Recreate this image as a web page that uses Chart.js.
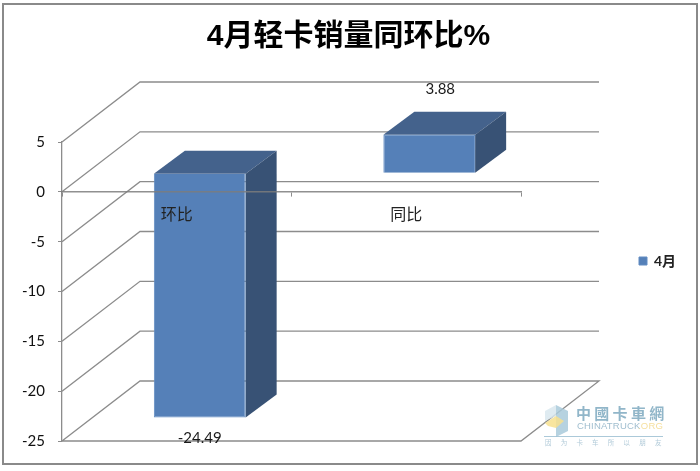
<!DOCTYPE html>
<html>
<head>
<meta charset="utf-8">
<style>html,body{margin:0;padding:0;background:#fff}canvas{display:block}</style>
<script src="https://cdn.jsdelivr.net/npm/chart.js@4/dist/chart.umd.min.js"></script>
</head>
<body>
<canvas id="c" width="700" height="471"></canvas>
<script>
const chartTitle = '4月轻卡销量同环比%';
const categories = ['环比', '同比'];
const seriesName = '4月';
const seriesValues = [-24.49, 3.88];
const valueLabels = ['-24.49', '3.88'];
const axisMin = -25, axisMax = 5, axisStep = 5;

const FONT = 'Lato, "Noto Sans CJK SC", sans-serif';
const GRID = '#8c8c8c';
const target = {left: 62, right: 521, top: 142, bottom: 441};
const wall = {dx: 78, dy: -60};
const barShift = {dx: 23, dy: -18.5};
const barDepth = {dx: 31, dy: -23};

const scene3d = {
  id: 'scene3d',
  beforeDraw(chart) {
    const c = chart.ctx;
    c.save();
    c.fillStyle = '#fff';
    c.fillRect(0, 0, chart.width, chart.height);
    c.strokeStyle = '#8a8a8a';
    c.lineWidth = 2;
    c.strokeRect(3, 4, 694, 460);
    c.restore();
  },
  afterLayout(chart) {
    const l = chart.legend;
    if (l) { l.left = 634; l.right = 691; l.top = 249; l.bottom = 275; }
    const t = chart.titleBlock;
    if (t) { t.left = 0; t.right = 697; }
  },
  beforeDatasetsDraw(chart) {
    const c = chart.ctx, y = chart.scales.y, a = chart.chartArea;
    c.save();
    c.strokeStyle = GRID;
    c.lineWidth = 1.3;
    y.ticks.forEach(t => {
      const p = y.getPixelForValue(t.value);
      c.beginPath();
      c.moveTo(a.left, p);
      c.lineTo(a.left + wall.dx, p + wall.dy);
      c.lineTo(a.right + wall.dx, p + wall.dy);
      if (t.value === axisMin) {
        c.lineTo(a.right, p);
        c.lineTo(a.left, p);
      }
      c.stroke();
    });
    c.restore();
    // bars are drawn by the library, moved to mid depth of the box
    c.save();
    c.translate(barShift.dx, barShift.dy);
    chart.getDatasetMeta(0).data.forEach(b => {
      const x0 = b.x - b.width / 2, x1 = b.x + b.width / 2;
      const top = Math.min(b.y, b.base), bot = Math.max(b.y, b.base);
      c.fillStyle = '#44628c';
      c.beginPath();
      c.moveTo(x0, top);
      c.lineTo(x0 + barDepth.dx, top + barDepth.dy);
      c.lineTo(x1 + barDepth.dx, top + barDepth.dy);
      c.lineTo(x1, top);
      c.closePath();
      c.fill();
      c.fillStyle = '#385275';
      c.beginPath();
      c.moveTo(x1, top);
      c.lineTo(x1 + barDepth.dx, top + barDepth.dy);
      c.lineTo(x1 + barDepth.dx, bot + barDepth.dy);
      c.lineTo(x1, bot);
      c.closePath();
      c.fill();
    });
  },
  afterDatasetsDraw(chart) {
    chart.ctx.restore();
  },
  afterDraw(chart) {
    const c = chart.ctx;
    c.save();
    // value labels
    c.fillStyle = '#1a1a1a';
    c.font = '15px ' + FONT;
    c.textAlign = 'center';
    c.textBaseline = 'middle';
    chart.getDatasetMeta(0).data.forEach((b, i) => {
      const v = seriesValues[i];
      if (v < 0) c.fillText(valueLabels[i], b.x + 23, b.y + 2);
      else c.fillText(valueLabels[i], b.x + 34, b.y - 64);
    });
    // watermark
    c.globalAlpha = 0.85;
    c.fillStyle = '#a9cadb';
    c.beginPath();
    c.moveTo(556, 405); c.lineTo(568, 411); c.lineTo(568, 431); c.lineTo(556, 437); c.closePath();
    c.fill();
    c.fillStyle = '#d9e8ef';
    c.beginPath();
    c.moveTo(556, 405); c.lineTo(545, 411); c.lineTo(545, 421); c.lineTo(556, 416); c.closePath();
    c.fill();
    c.fillStyle = '#f7e08e';
    c.beginPath();
    c.moveTo(545, 423); c.lineTo(556, 416); c.lineTo(564, 421); c.lineTo(556, 428); c.lineTo(548, 426); c.closePath();
    c.fill();
    c.textAlign = 'left';
    c.fillStyle = '#7ea9c0';
    c.font = 'bold 15px "Noto Sans CJK TC", sans-serif';
    c.letterSpacing = '3.3px';
    c.fillText('中國卡車網', 576, 413);
    c.letterSpacing = '0.2px';
    c.font = '9.5px "Liberation Sans", sans-serif';
    c.fillStyle = '#8fb3c7';
    c.fillText('CHINATRUCK', 577, 426);
    c.fillStyle = '#f3d98c';
    c.fillText('.ORG', 638, 426);
    c.fillStyle = '#9cc0d2';
    c.fillRect(544, 436, 119, 1);
    c.letterSpacing = '9.2px';
    c.font = '6.5px "Noto Sans CJK SC", sans-serif';
    c.fillStyle = '#a5c2d2';
    c.fillText('因为卡车所以朋友', 545, 443);
    c.restore();
  }
};

const chart = new Chart(document.getElementById('c'), {
  type: 'bar',
  data: {
    labels: categories,
    datasets: [{
      label: seriesName,
      data: seriesValues,
      backgroundColor: '#5580b8',
      borderColor: '#628cc2',
      borderWidth: 1,
      barPercentage: 0.4,
      categoryPercentage: 1,
      clip: false
    }]
  },
  options: {
    responsive: false,
    animation: false,
    devicePixelRatio: 1,
    layout: {padding: {left: 25, right: 130, top: 0, bottom: 30}},
    plugins: {
      title: {
        display: true,
        text: chartTitle,
        color: '#000',
        font: {family: '"Liberation Sans", "Noto Sans CJK SC", sans-serif', size: 30, weight: 'bold'},
        padding: {top: 19, bottom: 88}
      },
      legend: {
        display: true,
        position: 'right',
        align: 'start',
        labels: {
          boxWidth: 8, boxHeight: 8, padding: 5, color: '#222',
          font: {family: FONT, size: 14, weight: 'bold'}
        }
      },
      tooltip: {enabled: false}
    },
    scales: {
      x: {
        type: 'category',
        position: {y: 0},
        offset: true,
        grid: {display: true, offset: true, drawOnChartArea: false, color: GRID, tickLength: 4, tickWidth: 1},
        border: {display: true, color: 'rgba(125,125,125,0.85)', width: 1.6, z: 1},
        ticks: {color: '#222', font: {family: FONT, size: 16}, padding: 9, z: 1, maxRotation: 0}
      },
      y: {
        min: axisMin,
        max: axisMax,
        grid: {display: true, drawOnChartArea: false, color: GRID, tickLength: 4},
        border: {display: true, color: GRID, width: 1.3},
        ticks: {stepSize: axisStep, color: '#111', font: {family: FONT, size: 15}, padding: 13}
      }
    }
  },
  plugins: [scene3d]
});

// fit the plot box to the reference position
for (let i = 0; i < 3; i++) {
  const a = chart.chartArea, p = chart.options.layout.padding, t = chart.options.plugins.title.padding;
  p.left += target.left - a.left;
  p.right += a.right - target.right;
  p.bottom += a.bottom - target.bottom;
  t.bottom += target.top - a.top;
  chart.update('none');
}
</script>
</body>
</html>
